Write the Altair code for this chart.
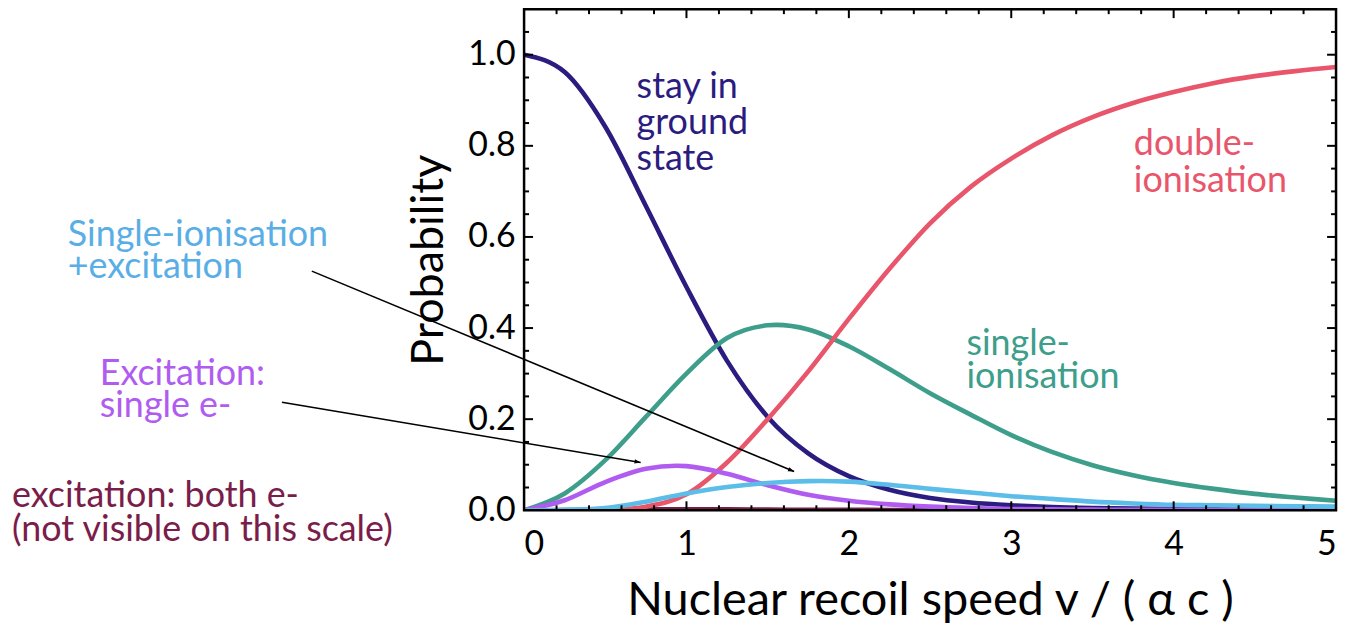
import math
import altair as alt
import pandas as pd

# ---------------- data ----------------
v = [0, 0.25, 0.5, 0.75, 1.0, 1.25, 1.5, 1.75, 2.0, 2.25, 2.5, 2.75, 3.0,
     3.25, 3.5, 3.75, 4.0, 4.25, 4.5, 4.75, 5.0]

ground = [1.0, 0.962, 0.842, 0.668, 0.49, 0.328, 0.205, 0.125, 0.075, 0.045, 0.027,
          0.017, 0.011, 0.007, 0.005, 0.004, 0.003, 0.002, 0.0015, 0.001, 0.001]
single_ion = [0.0, 0.037, 0.11, 0.205, 0.30, 0.378, 0.406, 0.397, 0.36, 0.31, 0.257,
              0.21, 0.165, 0.128, 0.099, 0.077, 0.06, 0.047, 0.036, 0.028, 0.021]
double_ion = [0.0, 0.0, 0.001, 0.008, 0.035, 0.105, 0.20, 0.305, 0.42, 0.53, 0.63,
              0.71, 0.772, 0.823, 0.863, 0.894, 0.918, 0.938, 0.953, 0.964, 0.973]
excit_single = [0.0, 0.022, 0.062, 0.091, 0.097, 0.08, 0.055, 0.034, 0.021, 0.013, 0.008,
                0.005, 0.003, 0.002, 0.0015, 0.001, 0.001, 0.0008, 0.0006, 0.0005, 0.0005]
ion_excit = [0.0, 0.001, 0.005, 0.019, 0.037, 0.051, 0.06, 0.064, 0.063, 0.056, 0.047,
             0.039, 0.031, 0.025, 0.019, 0.015, 0.012, 0.011, 0.010, 0.009, 0.008]
excit_both = [0.0, 0.0005, 0.001, 0.002, 0.002, 0.002, 0.0015, 0.001, 0.001, 0.0008, 0.0006,
              0.0005, 0.0004, 0.0003, 0.0003, 0.0002, 0.0002, 0.0002, 0.0001, 0.0001, 0.0001]

series_names = ["excitation: both e-", "ground", "single-ionisation", "double-ionisation",
                "Excitation: single e-", "Single-ionisation+excitation"]
series_values = [excit_both, ground, single_ion, double_ion, excit_single, ion_excit]
series_colors = ["#7a1d4a", "#2b1c80", "#3d9e8b", "#e9566c", "#b15cf0", "#5bbde8"]
series_curve = ["monotone", "monotone", "cardinal", "cardinal", "cardinal", "cardinal"]

x_ticks = [0, 1, 2, 3, 4, 5]
y_ticks = [0.0, 0.2, 0.4, 0.6, 0.8, 1.0]
x_minor = [0.2, 0.4, 0.6, 0.8, 1.2, 1.4, 1.6, 1.8, 2.2, 2.4, 2.6, 2.8,
           3.2, 3.4, 3.6, 3.8, 4.2, 4.4, 4.6, 4.8]
x_major = [1, 2, 3, 4]
y_minor = [0.05, 0.1, 0.15, 0.25, 0.3, 0.35, 0.45, 0.5, 0.55, 0.65, 0.7, 0.75,
           0.85, 0.9, 0.95, 1.05]
y_major = [0.2, 0.4, 0.6, 0.8, 1.0]

# annotations (label lines, x, y, colour, line height)
ann_text = [["stay in", "ground", "state"],
            ["double-", "ionisation"],
            ["single-", "ionisation"],
            ["Single-ionisation", "+excitation"],
            ["Excitation:", "single e-"],
            ["excitation: both e-", "(not visible on this scale)"]]
ann_x = [0.693, 3.755, 2.724, -2.81, -2.613, -3.153]
ann_y = [0.906, 0.78, 0.34, 0.58, 0.2745, 0.0065]
ann_color = ["#2b1c80", "#e9566c", "#3d9e8b", "#5aaee6", "#b15cf0", "#7a1d4a"]
ann_lh = [36.5, 37, 33, 32, 32, 34]

# arrows (start -> end)
arr_x1 = [-1.307, -1.491]
arr_y1 = [0.525, 0.237]
arr_x2 = [1.663, 0.718]
arr_y2 = [0.085, 0.105]

# ---------------- layout ----------------
W, H = 815, 503
XMAX, YMAX = 5.0, 1.1
FONT = "Lato"

xs = alt.Scale(domain=[0, XMAX], nice=False, zero=False)
ys = alt.Scale(domain=[0, YMAX], nice=False)
cs = alt.Scale(domain=series_names, range=series_colors)

rows = []
for k, (name, vals, cur) in enumerate(zip(series_names, series_values, series_curve)):
    for xv, yv in zip(v, vals):
        rows.append({"series": name, "v": xv, "p": yv, "k": k, "curve": cur})
df = pd.DataFrame(rows)

xaxis = alt.Axis(values=x_ticks, format="d", ticks=False, domain=False, grid=False,
                 labelFontSize=34, labelPadding=17, labelFont=FONT, labelColor="black",
                 title="Nuclear recoil speed v / ( α c )", titleFont=FONT,
                 titleFontSize=47, titleFontWeight="normal", titleColor="black",
                 titlePadding=17)
yaxis = alt.Axis(values=y_ticks, format=".1f", ticks=False, domain=False, grid=False,
                 labelFontSize=34, labelPadding=9, labelFont=FONT, labelColor="black",
                 title="Probability", titleFont=FONT, titleFontSize=45,
                 titleFontWeight="normal", titleColor="black", titlePadding=16)

layers = []
for cur in ["monotone", "cardinal"]:
    sub = df[df["curve"] == cur]
    layers.append(alt.Chart(sub).mark_line(strokeWidth=4.6, interpolate=cur, clip=True).encode(
        x=alt.X("v:Q", scale=xs, axis=xaxis),
        y=alt.Y("p:Q", scale=ys, axis=yaxis),
        color=alt.Color("series:N", scale=cs, legend=None),
        detail="k:N"))

# frame
layers.append(alt.Chart(pd.DataFrame({"a": [0]})).mark_rect(
    fillOpacity=0, stroke="black", strokeWidth=2.5).encode(
    x=alt.value(0), x2=alt.value(W), y=alt.value(0), y2=alt.value(H)))

# inward ticks
def vticks(vals, length, bottom=True):
    d = pd.DataFrame({"t": vals})
    if bottom:
        enc = dict(y=alt.value(H), y2=alt.value(H - length))
    else:
        enc = dict(y=alt.value(0), y2=alt.value(length))
    return alt.Chart(d).mark_rule(color="black", strokeWidth=2).encode(
        x=alt.X("t:Q", scale=xs), **enc)

def hticks(vals, length, left=True):
    d = pd.DataFrame({"t": vals})
    if left:
        enc = dict(x=alt.value(0), x2=alt.value(length))
    else:
        enc = dict(x=alt.value(W), x2=alt.value(W - length))
    return alt.Chart(d).mark_rule(color="black", strokeWidth=2).encode(
        y=alt.Y("t:Q", scale=ys), **enc)

for side in (True, False):
    layers += [vticks(x_minor, 5, side), vticks(x_major, 9, side),
               hticks(y_minor, 5, side), hticks(y_major, 9, side)]

# annotation text
for lines_txt, ax, ay, col, lh in zip(ann_text, ann_x, ann_y, ann_color, ann_lh):
    d = pd.DataFrame({"x": [ax], "y": [ay], "label": [lines_txt]})
    layers.append(alt.Chart(d).mark_text(
        font=FONT, fontSize=36, align="left", baseline="alphabetic", color=col,
        lineHeight=lh).encode(x=alt.X("x:Q", scale=xs), y=alt.Y("y:Q", scale=ys),
                             text="label"))

# arrows
adf = pd.DataFrame({"x1": arr_x1, "y1": arr_y1, "x2": arr_x2, "y2": arr_y2})
adf["ang"] = [math.degrees(math.atan2(-(b2 - b1) * H / YMAX, (a2 - a1) * W / XMAX))
              for a1, b1, a2, b2 in zip(arr_x1, arr_y1, arr_x2, arr_y2)]
layers.append(alt.Chart(adf).mark_rule(color="black", strokeWidth=1.6).encode(
    x=alt.X("x1:Q", scale=xs), y=alt.Y("y1:Q", scale=ys), x2="x2:Q", y2="y2:Q"))
layers.append(alt.Chart(adf).mark_point(
    shape="M0,0L-1,-0.36L-1,0.36Z", filled=True, color="black", opacity=1, size=150).encode(
    x=alt.X("x2:Q", scale=xs), y=alt.Y("y2:Q", scale=ys), angle=alt.Angle("ang:Q", scale=None)))

chart = alt.layer(*layers).properties(
    width=W, height=H,
    autosize=alt.AutoSizeParams(type="none"),
    padding={"left": 518, "top": 0, "right": 10, "bottom": 121},
).configure_view(stroke=None).configure(background="white")

chart.save("out.html", embed_options={"renderer": "svg", "actions": False})
